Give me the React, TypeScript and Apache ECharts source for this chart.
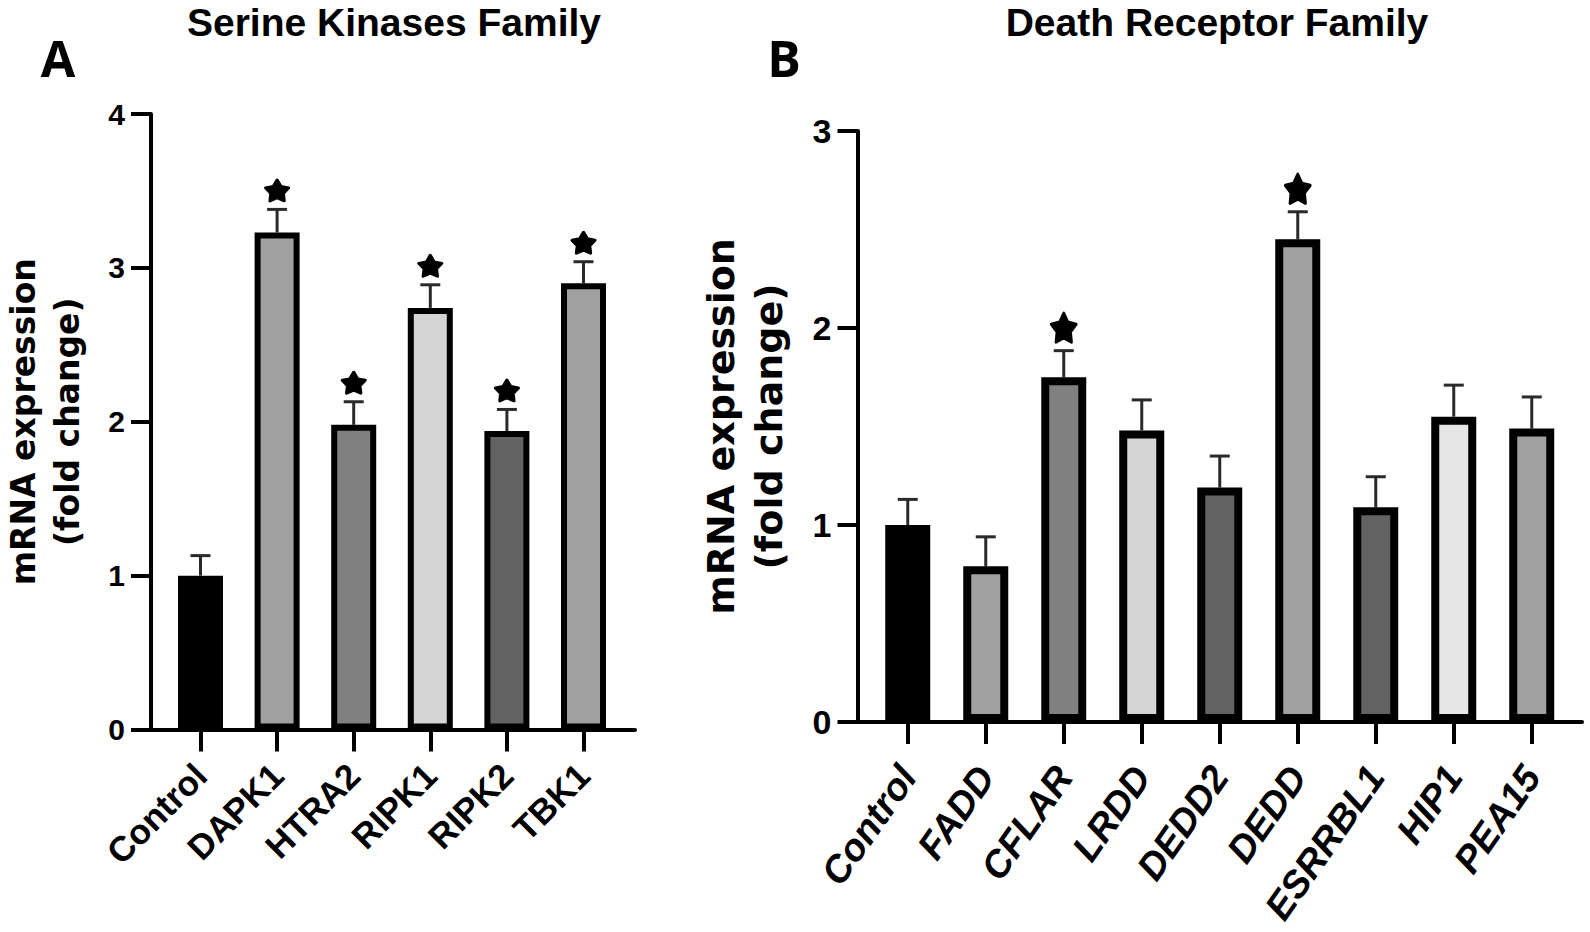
import React, { useEffect, useRef } from "react";
import * as echarts from "echarts";

// ---------- Panel A data ----------
const catsA = ["Control", "DAPK1", "HTRA2", "RIPK1", "RIPK2", "TBK1"];
const valsA = [1.0, 3.23, 1.98, 2.74, 1.94, 2.9];
const errsA = [0.13, 0.15, 0.15, 0.15, 0.14, 0.14];
const colorsA = ["#000000", "#a0a0a0", "#808080", "#d4d4d4", "#626262", "#a0a0a0"];
const starsA = [false, true, true, true, true, true];
const yMaxA = 4;

// ---------- Panel B data ----------
const catsB = ["Control", "FADD", "CFLAR", "LRDD", "DEDD2", "DEDD", "ESRRBL1", "HIP1", "PEA15"];
const valsB = [1.0, 0.79, 1.75, 1.48, 1.19, 2.45, 1.09, 1.55, 1.49];
const errsB = [0.13, 0.15, 0.135, 0.155, 0.16, 0.14, 0.155, 0.16, 0.16];
const colorsB = ["#000000", "#a0a0a0", "#808080", "#d4d4d4", "#626262", "#a0a0a0", "#626262", "#e6e6e6", "#a0a0a0"];
const starsB = [false, false, true, false, false, true, false, false, false];
const yMaxB = 3;

const yLabel = "mRNA expression\n(fold change)";
const titleA = "Serine Kinases Family";
const titleB = "Death Receptor Family";

const STAR =
  "path://M50,0 L65.87,28.16 L97.55,34.55 L75.68,58.34 L79.39,90.45 L50,77 L20.61,90.45 L24.32,58.34 L2.45,34.55 L34.13,28.16 Z";

type PanelCfg = {
  cats: string[];
  vals: number[];
  errs: number[];
  colors: string[];
  stars: boolean[];
  yMax: number;
  axisX: number;
  axisEnd: number;
  band: number;
  top: number;
  zeroY: number;
  barWidth: number;
  borderWidth: number;
  capW: number;
  starSize: number[];
  starOffset: number;
  tickFont: number;
  xFont: number;
  xRotate: number;
  xMargin: number;
  italic: boolean;
  nameFont: number;
  nameGap: number;
  nameLineHeight: number;
};

function buildPanel(c: PanelCfg, gi: number) {
  const n = c.cats.length;
  const ext = (c.axisEnd - c.axisX - (n - 1) * c.band) / 2;
  const innerLeft = c.axisX + ext - c.band / 2;
  const height = c.zeroY - c.top;
  const grids = [
    { left: c.axisX, top: c.top, width: c.axisEnd - c.axisX, height },
    { left: innerLeft, top: c.top, width: n * c.band, height },
  ];
  const lbl = {
    color: "#000",
    fontFamily: "Liberation Sans",
    fontWeight: "bold" as const,
  };
  const xAxes = [
    {
      type: "value",
      gridIndex: gi,
      min: 0,
      max: 1,
      axisLine: { show: true, lineStyle: { color: "#000", width: 4 } },
      axisTick: { show: false },
      axisLabel: { show: false },
      splitLine: { show: false },
    },
    {
      type: "category",
      gridIndex: gi + 1,
      data: c.cats,
      axisLine: { show: false },
      axisTick: {
        show: true,
        alignWithLabel: true,
        interval: 0,
        length: 22,
        lineStyle: { color: "#000", width: 4 },
      },
      axisLabel: {
        ...lbl,
        interval: 0,
        rotate: c.xRotate,
        margin: c.xMargin,
        fontSize: c.xFont,
        fontStyle: c.italic ? "italic" : "normal",
      },
      splitLine: { show: false },
    },
  ];
  const yAxes = [
    {
      type: "value",
      gridIndex: gi,
      min: 0,
      max: c.yMax,
      interval: 1,
      axisLine: { show: true, lineStyle: { color: "#000", width: 4 } },
      axisTick: { show: true, length: 20, lineStyle: { color: "#000", width: 4 } },
      axisLabel: { ...lbl, margin: 26, fontSize: c.tickFont },
      splitLine: { show: false },
      name: yLabel,
      nameLocation: "middle",
      nameRotate: 90,
      nameGap: c.nameGap,
      nameTextStyle: {
        color: "#000",
        fontFamily: "DejaVu Sans",
        fontWeight: "bold",
        fontSize: c.nameFont,
        lineHeight: c.nameLineHeight,
      },
    },
    { type: "value", gridIndex: gi + 1, min: 0, max: c.yMax, show: false },
  ];
  return { grids, xAxes, yAxes };
}

function buildSeries(c: PanelCfg, axisIdx: number) {
  const errData = c.vals.map((v, i) => [i, v, c.errs[i]]);
  const starData = c.vals
    .map((v, i) => (c.stars[i] ? [i, v + c.errs[i]] : null))
    .filter((d) => d !== null);
  return [
    {
      type: "custom",
      xAxisIndex: axisIdx,
      yAxisIndex: axisIdx,
      z: 1,
      data: errData,
      renderItem: (params: any, api: any) => {
        const x = api.value(0);
        const v = api.value(1);
        const e = api.value(2);
        const p0 = api.coord([x, v]);
        const p1 = api.coord([x, v + e]);
        const hw = c.capW / 2;
        const st = { stroke: "#2a2a2a", lineWidth: 3 };
        return {
          type: "group",
          children: [
            { type: "line", shape: { x1: p0[0], y1: p0[1], x2: p1[0], y2: p1[1] }, style: st },
            { type: "line", shape: { x1: p1[0] - hw, y1: p1[1], x2: p1[0] + hw, y2: p1[1] }, style: st },
          ],
        };
      },
    },
    {
      type: "bar",
      xAxisIndex: axisIdx,
      yAxisIndex: axisIdx,
      z: 2,
      barWidth: c.barWidth,
      data: c.vals.map((v, i) => ({
        value: v,
        itemStyle: { color: c.colors[i], borderColor: "#000", borderWidth: c.borderWidth },
      })),
    },
    {
      type: "scatter",
      xAxisIndex: axisIdx,
      yAxisIndex: axisIdx,
      z: 3,
      symbol: STAR,
      symbolSize: c.starSize,
      symbolOffset: [0, c.starOffset],
      itemStyle: {
        color: "#000",
        opacity: 1,
        borderColor: "#000",
        borderWidth: 3,
        borderJoin: "round",
      },
      emphasis: { disabled: true },
      data: starData,
    },
  ];
}

const cfgA: PanelCfg = {
  cats: catsA,
  vals: valsA,
  errs: errsA,
  colors: colorsA,
  stars: starsA,
  yMax: yMaxA,
  axisX: 149,
  axisEnd: 635,
  band: 76.6,
  top: 114,
  zeroY: 729.5,
  barWidth: 45,
  borderWidth: 6,
  capW: 20,
  starSize: [23, 21],
  starOffset: -19,
  tickFont: 30,
  xFont: 35,
  xRotate: 45,
  xMargin: 40,
  italic: false,
  nameFont: 33,
  nameGap: 62,
  nameLineHeight: 44,
};

const cfgB: PanelCfg = {
  cats: catsB,
  vals: valsB,
  errs: errsB,
  colors: colorsB,
  stars: starsB,
  yMax: yMaxB,
  axisX: 857.5,
  axisEnd: 1582,
  band: 78,
  top: 131,
  zeroY: 722,
  barWidth: 45,
  borderWidth: 8,
  capW: 20,
  starSize: [25, 29],
  starOffset: -23,
  tickFont: 34,
  xFont: 38,
  xRotate: 55,
  xMargin: 48,
  italic: true,
  nameFont: 38,
  nameGap: 65,
  nameLineHeight: 48,
};

export default function App() {
  const ref = useRef<HTMLDivElement>(null);
  useEffect(() => {
    if (!ref.current) return;
    const chart = echarts.init(ref.current, null, { renderer: "svg" });
    const pA = buildPanel(cfgA, 0);
    const pB = buildPanel(cfgB, 2);
    const textStyle = (text: string, size: number, family: string) => ({
      text,
      fontFamily: family,
      fontWeight: "bold",
      fontSize: size,
      fill: "#000",
      align: "center",
      verticalAlign: "middle",
    });
    chart.setOption({
      animation: false,
      backgroundColor: "#ffffff",
      grid: [...pA.grids, ...pB.grids],
      xAxis: [...pA.xAxes, ...pB.xAxes],
      yAxis: [...pA.yAxes, ...pB.yAxes],
      series: [...buildSeries(cfgA, 1), ...buildSeries(cfgB, 3)],
      graphic: [
        { type: "text", x: 394, y: 22, style: textStyle(titleA, 39, "Liberation Sans") },
        { type: "text", x: 1217, y: 22, style: textStyle(titleB, 39, "Liberation Sans") },
        { type: "text", x: 58, y: 58, style: textStyle("A", 50, "Open Sans") },
        { type: "text", x: 784, y: 58, style: textStyle("B", 50, "Open Sans") },
      ],
    });
    return () => chart.dispose();
  }, []);
  return (
    <div
      ref={ref}
      style={{ position: "fixed", left: 0, top: 0, width: 1590, height: 932, background: "#fff" }}
    />
  );
}
